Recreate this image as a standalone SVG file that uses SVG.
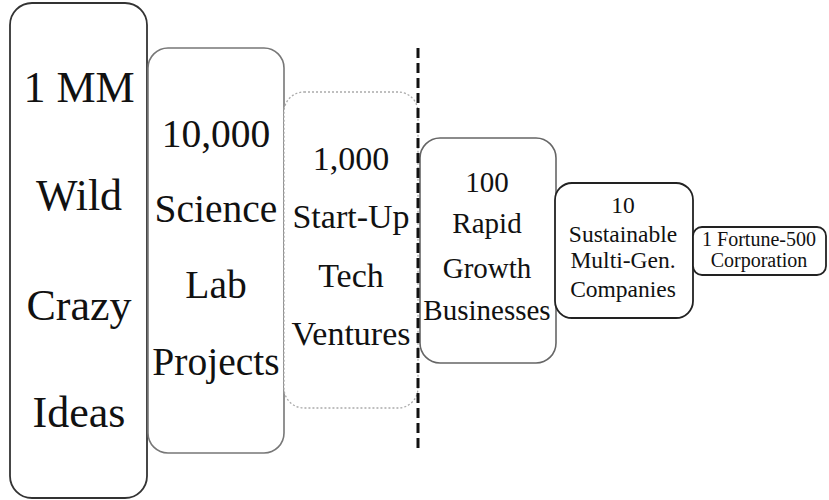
<svg xmlns="http://www.w3.org/2000/svg" width="829" height="500" viewBox="0 0 829 500">
  <style>
    .t { font-family: "Liberation Serif", "Times New Roman", serif; fill: #111; text-anchor: middle; }
    .box { fill: #fff; }
  </style>
  <rect width="829" height="500" fill="#fff"/>
  <g id="node-ideas">
    <rect class="box" x="10" y="3" width="137" height="495" rx="22" stroke="#333" stroke-width="1.8"/>
    <text class="t" x="79" font-size="44"><tspan x="79" y="102">1 MM</tspan><tspan x="79" y="210">Wild</tspan><tspan x="79" y="320">Crazy</tspan><tspan x="79" y="427">Ideas</tspan></text>
  </g>
  <g id="node-science">
    <rect class="box" x="148" y="48" width="136" height="405" rx="20" stroke="#777" stroke-width="1.6"/>
    <text class="t" x="216" font-size="39.5"><tspan x="216" y="147">10,000</tspan><tspan x="216" y="222">Science</tspan><tspan x="216" y="298">Lab</tspan><tspan x="216" y="375">Projects</tspan></text>
  </g>
  <g id="node-startup">
    <rect class="box" x="284" y="92" width="134" height="316" rx="20" stroke="#aaa" stroke-width="1.3" stroke-dasharray="2 2"/>
    <text class="t" x="351" font-size="34"><tspan x="351" y="170">1,000</tspan><tspan x="351" y="228">Start-Up</tspan><tspan x="351" y="287">Tech</tspan><tspan x="351" y="345">Ventures</tspan></text>
  </g>
  <g id="node-rapid">
    <rect class="box" x="420" y="138" width="136" height="225" rx="20" stroke="#666" stroke-width="1.6"/>
    <text class="t" x="487" font-size="29"><tspan x="487" y="192">100</tspan><tspan x="487" y="233">Rapid</tspan><tspan x="487" y="278">Growth</tspan><tspan x="487" y="320">Businesses</tspan></text>
  </g>
  <g id="node-sustainable">
    <rect class="box" x="555" y="183" width="138" height="135" rx="17" stroke="#222" stroke-width="1.8"/>
    <text class="t" x="623" font-size="23.5"><tspan x="623" y="213">10</tspan><tspan x="623" y="242">Sustainable</tspan><tspan x="623" y="268">Multi-Gen.</tspan><tspan x="623" y="297">Companies</tspan></text>
  </g>
  <g id="node-fortune">
    <rect class="box" x="693" y="227" width="133" height="48" rx="9" stroke="#222" stroke-width="1.8"/>
    <text class="t" x="759" font-size="20"><tspan x="759" y="246">1 Fortune-500</tspan><tspan x="759" y="267">Corporation</tspan></text>
  </g>
  <g id="connectors">
    <line x1="418" y1="48" x2="418" y2="448" stroke="#111" stroke-width="3" stroke-dasharray="10 5"/>
  </g>
</svg>
